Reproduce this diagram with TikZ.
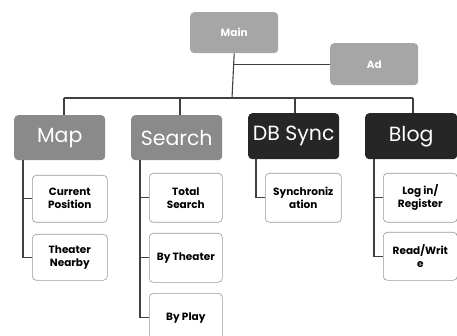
\documentclass[tikz,border=0pt]{standalone}
\usepackage{fontspec}
\setmainfont{Poppins}
\begin{document}
\begin{tikzpicture}[x=1pt,y=-1pt,
  topbox/.style={draw=none,fill=#1,rounded corners=4pt,text=white,inner sep=0pt,anchor=north west,font=\fontsize{10.5}{12}\selectfont\bfseries},
  catbox/.style={draw=none,fill=#1,rounded corners=4pt,text=white,inner sep=0pt,anchor=north west,font=\fontsize{20.5}{22}\selectfont},
  leaf/.style={draw=black!40,line width=0.6pt,fill=white,rounded corners=4pt,inner sep=0pt,anchor=north west,align=center,font=\fontsize{10.5}{13}\selectfont\bfseries},
  conn/.style={draw=black!75,line width=1.1pt}]
\useasboundingbox (0,0) rectangle (457,336);
% top
\node[topbox=black!35,minimum width=88pt,minimum height=41pt] (main) at (190,12) {Main};
\node[topbox=black!35,minimum width=88pt,minimum height=42pt] (ad) at (330,43) {Ad};
% categories
\node[catbox=black!46,minimum width=91pt,minimum height=45pt] (map) at (14,115) {Map};
\node[catbox=black!46,minimum width=91pt,minimum height=45pt] (search) at (131,115) {Search};
\node[catbox=black!85,minimum width=91pt,minimum height=46pt] (db) at (248,113) {DB Sync};
\node[catbox=black!85,minimum width=92pt,minimum height=46pt] (blog) at (365,113) {Blog};
% leaves
\node[leaf,minimum width=75pt,minimum height=47pt] (cp) at (32,175) {Current\\Position};
\node[leaf,minimum width=75pt,minimum height=46pt] (tn) at (32,234) {Theater\\Nearby};
\node[leaf,minimum width=73pt,minimum height=49pt] (ts) at (149,173) {Total\\Search};
\node[leaf,minimum width=73pt,minimum height=49pt] (bt) at (149,233) {By Theater};
\node[leaf,minimum width=73pt,minimum height=49pt] (bp) at (149,293) {By Play};
\node[leaf,minimum width=76pt,minimum height=49pt] (sy) at (265,173) {Synchroniz\\ation};
\node[leaf,minimum width=74pt,minimum height=49pt] (lr) at (383,173) {Log in/\\Register};
\node[leaf,minimum width=74pt,minimum height=48pt] (rw) at (383,232) {Read/Writ\\e};
% connectors top
\coordinate (bus) at (232,98);
\coordinate (busl) at (64,98);
\coordinate (busr) at (413,98);
\draw[conn] (main.south) -- (bus);
\draw[conn] (main.south |- ad.west) -- (ad.west);
\draw[conn] (busl) -- (busr);
\draw[conn] (busl) -- (busl |- map.north);
\draw[conn] (180,98) -- (180,115);
\draw[conn] (295,98) -- (295,113);
\draw[conn] (busr) -- (busr |- blog.north);
% child connectors
\coordinate (mapl) at (23,160);
\draw[conn] (mapl) |- (tn.west);
\draw[conn] (mapl |- cp.west) -- (cp.west);
\coordinate (srl) at (140,160);
\draw[conn] (srl) |- (bp.west);
\draw[conn] (srl |- ts.west) -- (ts.west);
\draw[conn] (srl |- bt.west) -- (bt.west);
\coordinate (dbl) at (256,159);
\draw[conn] (dbl) |- (sy.west);
\coordinate (bll) at (374,159);
\draw[conn] (bll) |- (rw.west);
\draw[conn] (bll |- lr.west) -- (lr.west);
\end{tikzpicture}
\end{document}
